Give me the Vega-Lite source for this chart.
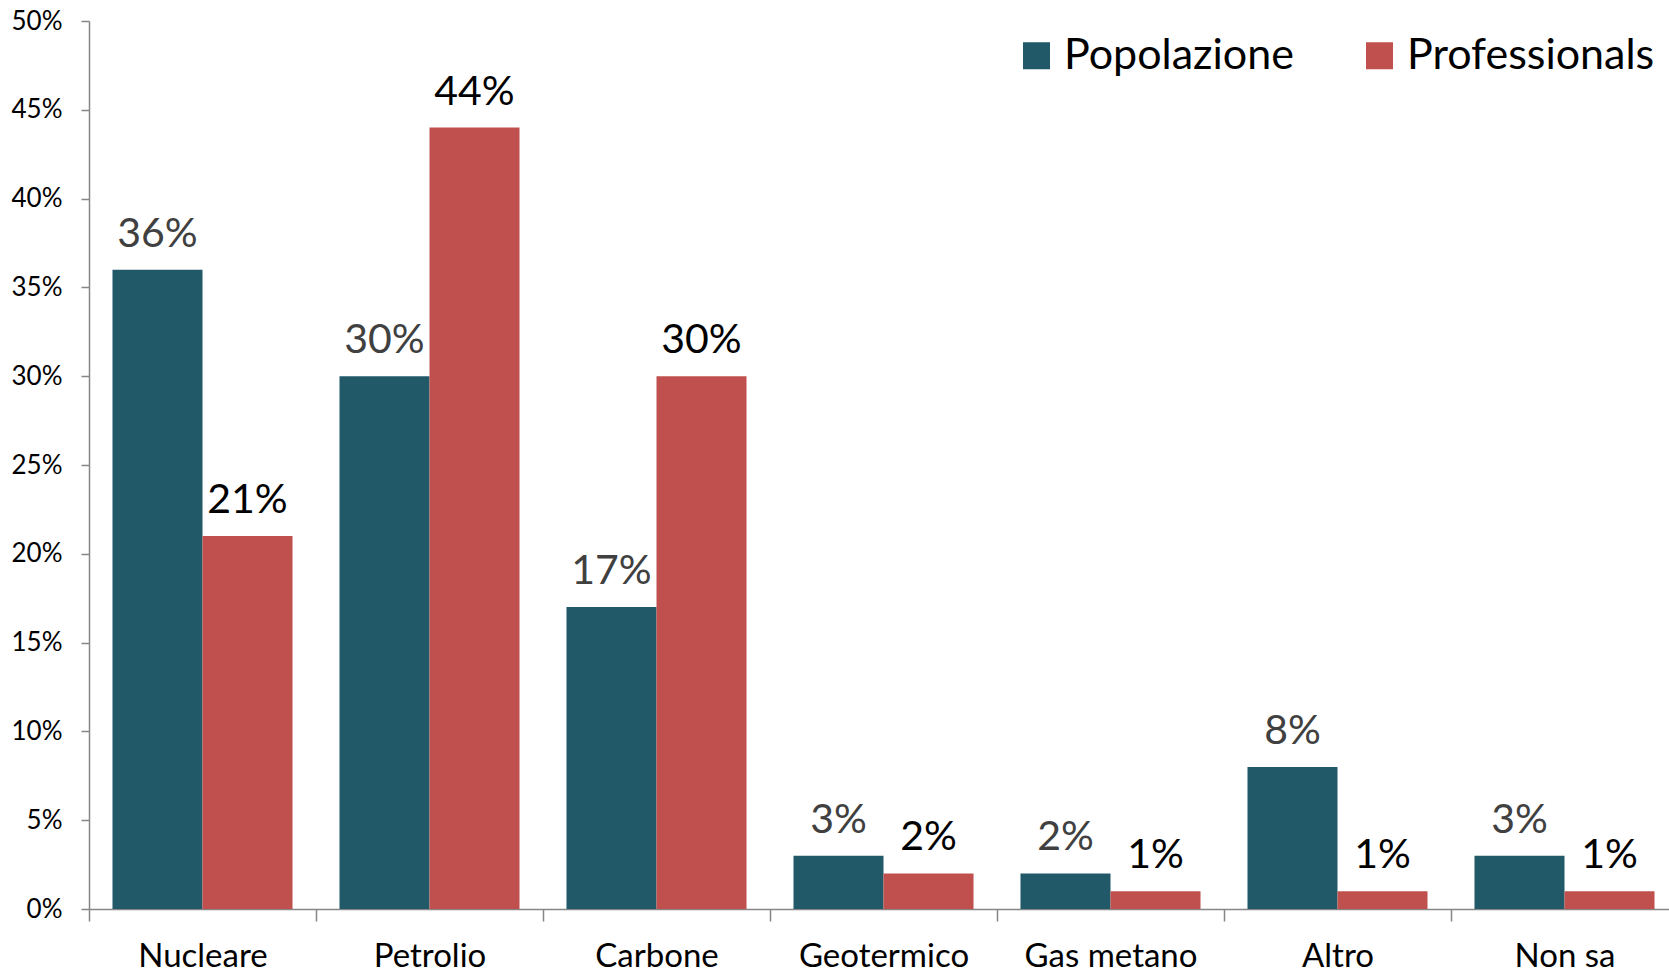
{
  "$schema": "https://vega.github.io/schema/vega-lite/v6.json",
  "autosize": "none",
  "padding": {"left": 89, "top": 21, "right": 0, "bottom": 64},
  "width": 1580,
  "height": 888,
  "background": "white",
  "config": {"view": {"stroke": null}, "font": "Lato"},
  "data": {"values": [
    {"cat": "Nucleare", "series": "Popolazione", "value": 0.36},
    {"cat": "Nucleare", "series": "Professionals", "value": 0.21},
    {"cat": "Petrolio", "series": "Popolazione", "value": 0.30},
    {"cat": "Petrolio", "series": "Professionals", "value": 0.44},
    {"cat": "Carbone", "series": "Popolazione", "value": 0.17},
    {"cat": "Carbone", "series": "Professionals", "value": 0.30},
    {"cat": "Geotermico", "series": "Popolazione", "value": 0.03},
    {"cat": "Geotermico", "series": "Professionals", "value": 0.02},
    {"cat": "Gas metano", "series": "Popolazione", "value": 0.02},
    {"cat": "Gas metano", "series": "Professionals", "value": 0.01},
    {"cat": "Altro", "series": "Popolazione", "value": 0.08},
    {"cat": "Altro", "series": "Professionals", "value": 0.01},
    {"cat": "Non sa", "series": "Popolazione", "value": 0.03},
    {"cat": "Non sa", "series": "Professionals", "value": 0.01}
  ]},
  "encoding": {
    "x": {
      "field": "cat", "type": "nominal", "sort": null,
      "scale": {"paddingInner": 0, "paddingOuter": 0, "range": [0, 1589]},
      "axis": {
        "title": null, "labelAngle": 0, "labelFont": "Lato", "labelFontSize": 33,
        "labelColor": "black", "labelBaseline": "alphabetic", "labelPadding": 45,
        "tickBand": "extent", "tickSize": 12, "tickColor": "#868686", "tickWidth": 1.5,
        "domainColor": "#868686", "domainWidth": 1.5, "grid": false, "labelLimit": 400
      }
    },
    "xOffset": {"field": "series", "type": "nominal", "scale": {"paddingInner": 0, "paddingOuter": 0.261}},
    "y": {
      "field": "value", "type": "quantitative",
      "scale": {"domain": [0, 0.5], "nice": false},
      "axis": {
        "title": null, "format": ".0%", "values": [0, 0.05, 0.1, 0.15, 0.2, 0.25, 0.3, 0.35, 0.4, 0.45, 0.5],
        "labelFont": "Lato", "labelFontSize": 26, "labelColor": "black", "labelPadding": 19,
        "tickSize": 8, "tickColor": "#868686", "tickWidth": 1.5,
        "domainColor": "#868686", "domainWidth": 1.5, "grid": false
      }
    }
  },
  "layer": [
    {
      "mark": {"type": "bar"},
      "encoding": {
        "color": {
          "field": "series", "type": "nominal",
          "scale": {"domain": ["Popolazione", "Professionals"], "range": ["#215968", "#C0504D"]},
          "legend": {
            "title": null, "orient": "none", "legendX": 926, "legendY": 13,
            "direction": "horizontal", "symbolType": "square", "symbolSize": 729,
            "symbolStrokeWidth": 0, "labelFont": "Lato", "labelFontSize": 43, "labelLimit": 500,
            "labelColor": "black", "labelOffset": 6, "columnPadding": 64, "padding": 0
          }
        }
      }
    },
    {
      "mark": {"type": "text", "baseline": "alphabetic", "dy": -23, "font": "Lato", "fontSize": 41},
      "encoding": {
        "text": {"field": "value", "type": "quantitative", "format": ".0%"},
        "color": {"condition": {"test": "datum.series === 'Popolazione'", "value": "#404040"}, "value": "black"}
      }
    }
  ]
}
